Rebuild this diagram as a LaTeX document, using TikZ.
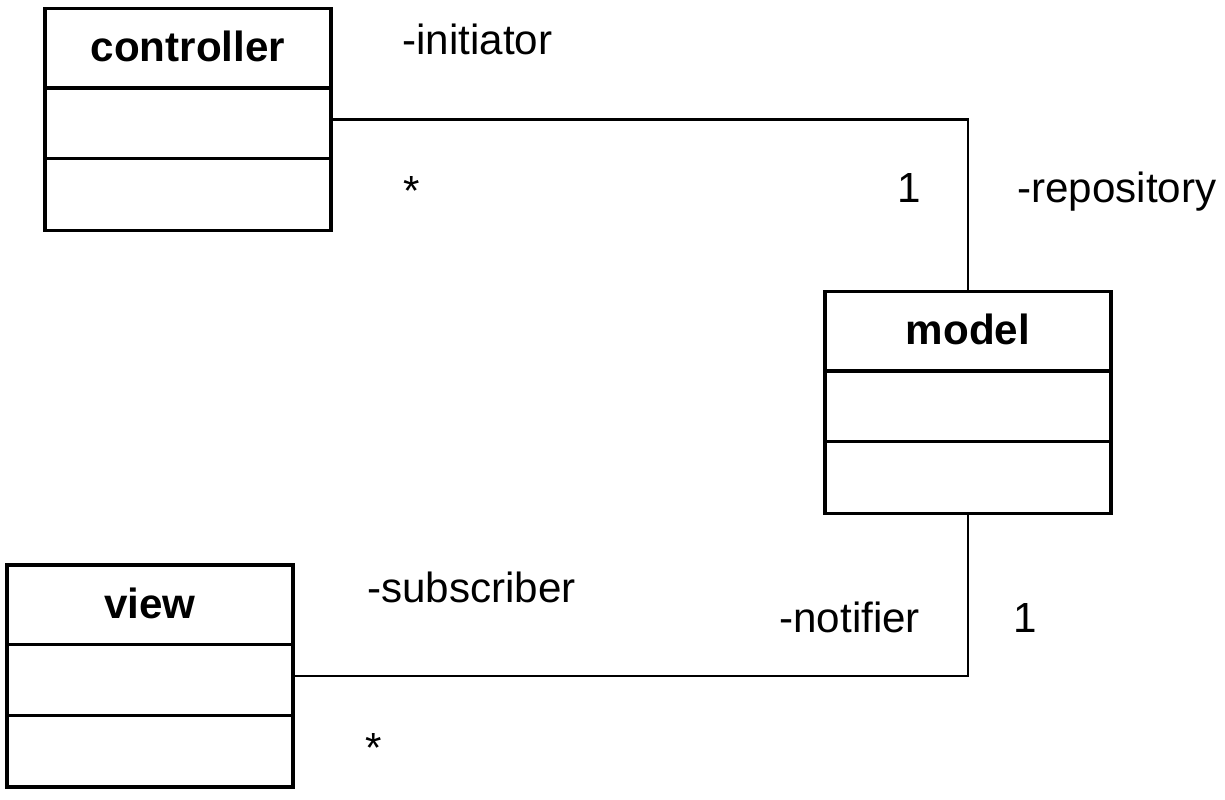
\documentclass[tikz,border=0pt]{standalone}
\usepackage{fontspec}
\setmainfont{Liberation Sans}
\usetikzlibrary{positioning}

\begin{document}
\begin{tikzpicture}[x=0.02cm, y=-0.02cm,
  classbox/.style={draw, line width=1.9pt, minimum width=5.72cm, minimum height=4.44cm, inner sep=0pt},
  title/.style={anchor=base, font=\fontsize{24}{28}\selectfont\bfseries, inner sep=0pt},
  role/.style={anchor=base west, font=\fontsize{24}{28}\selectfont, inner sep=0pt},
  assoc/.style={line width=1.2pt}]
  \useasboundingbox (0,0) rectangle (1225,800);

  \node[classbox] (ctrl) at (188,119.5) {};
  \node[classbox] (model) at (968,402.5) {};
  \node[classbox] (view) at (150,676) {};

  \foreach \c/\t in {ctrl/controller, model/model, view/view} {
    \node[title] (\c-title) at ([yshift=-1.1cm]\c.north) {\t};
    \draw[line width=1.9pt] ([yshift=-1.62cm]\c.north west) -- ([yshift=-1.62cm]\c.north east);
    \draw[line width=1.9pt] ([yshift=-3.04cm]\c.north west) -- ([yshift=-3.04cm]\c.north east);
  }

  \draw[assoc] (ctrl.east) -| (model.north);
  \draw[assoc] (model.south) |- (view.east);

  \node[role] (initiator) at (402,55) {-initiator};
  \node[role] (ctrlmult) at (403,206) {*};
  \node[role] (repomult) at (897,203) {1};
  \node[role] (repository) at (1017,203) {-repository};
  \node[role] (subscriber) at (367,603) {-subscriber};
  \node[role] (notifier) at (779,633) {-notifier};
  \node[role] (notifmult) at (1013,633) {1};
  \node[role] (viewmult) at (365,763) {*};
\end{tikzpicture}
\end{document}
